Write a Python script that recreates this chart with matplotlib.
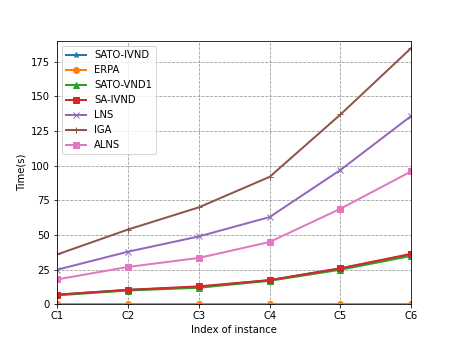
import matplotlib
matplotlib.use("Agg")
import matplotlib.pyplot as plt

categories = ["C1", "C2", "C3", "C4", "C5", "C6"]
sato_ivnd = [7, 10.5, 12.5, 17.5, 26, 36]
erpa = [0.3, 0.3, 0.3, 0.3, 0.3, 0.3]
sato_vnd1 = [6.5, 10, 12, 17, 25, 35]
sa_ivnd = [7, 10.5, 13, 17.5, 26, 36.5]
lns = [25, 38, 49, 63, 97, 136]
iga = [36, 54, 70, 92, 137, 185]
alns = [18, 27, 33.5, 45, 69, 96]

fig, ax = plt.subplots(figsize=(457/72, 342/72), dpi=72)
x = list(range(len(categories)))
series = [
    ("SATO-IVND", sato_ivnd, "*", "#1f77b4"),
    ("ERPA", erpa, "o", "#ff7f0e"),
    ("SATO-VND1", sato_vnd1, "^", "#2ca02c"),
    ("SA-IVND", sa_ivnd, "s", "#d62728"),
    ("LNS", lns, "x", "#9467bd"),
    ("IGA", iga, "+", "#8c564b"),
    ("ALNS", alns, "s", "#e377c2"),
]
for name, vals, m, c in series:
    ax.plot(x, vals, marker=m, color=c, label=name, linewidth=2, markersize=6)

ax.set_xticks(x)
ax.set_xticklabels(categories)
ax.set_xlim(0, 5)
ax.set_ylim(0, 190)
ax.set_xlabel("Index of instance")
ax.set_ylabel("Time(s)")
ax.grid(True, linestyle="--", color="gray", alpha=0.8)
ax.legend(loc="upper left")
fig.savefig("out.png", dpi=72)
